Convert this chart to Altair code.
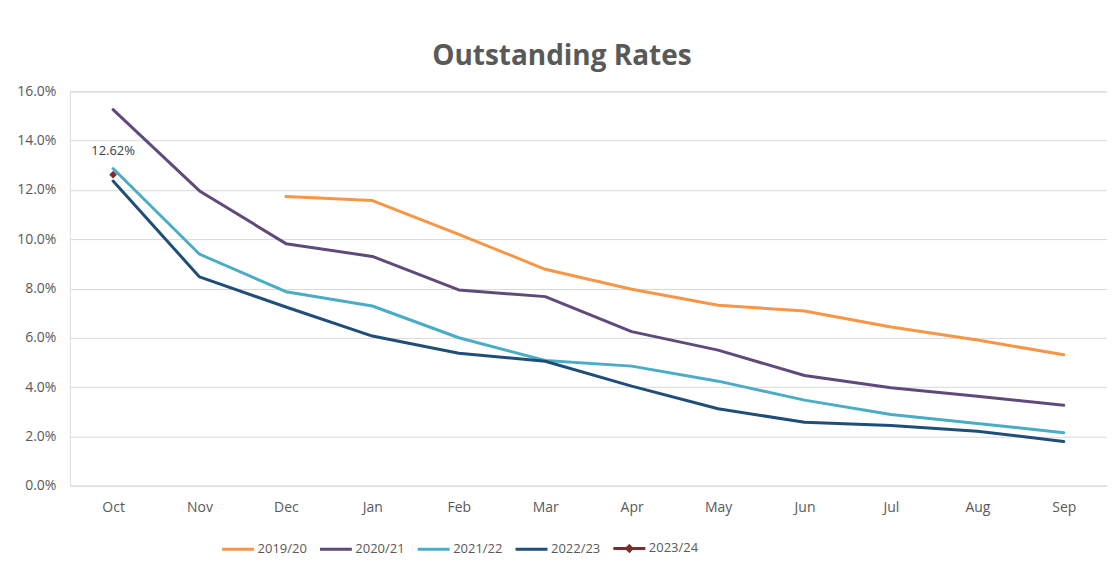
import altair as alt
import pandas as pd

months = ["Oct", "Nov", "Dec", "Jan", "Feb", "Mar", "Apr", "May", "Jun", "Jul", "Aug", "Sep"]
series_names = ["2019/20", "2020/21", "2021/22", "2022/23", "2023/24"]
s2019 = [None, None, 11.73, 11.57, 10.20, 8.78, 7.97, 7.32, 7.09, 6.44, 5.91, 5.31]
s2020 = [15.26, 11.96, 9.82, 9.30, 7.94, 7.67, 6.25, 5.50, 4.47, 3.97, 3.63, 3.26]
s2021 = [12.87, 9.39, 7.87, 7.29, 6.00, 5.08, 4.85, 4.24, 3.47, 2.89, 2.52, 2.15]
s2022 = [12.36, 8.47, 7.25, 6.07, 5.37, 5.05, 4.04, 3.12, 2.57, 2.44, 2.21, 1.79]
s2023 = [12.62, None, None, None, None, None, None, None, None, None, None, None]
y_ticks = [0, 0.02, 0.04, 0.06, 0.08, 0.10, 0.12, 0.14, 0.16]
colors = ["#F79646", "#604A7B", "#4BACC6", "#1F4E79", "#7B2C2C"]

rows = []
for name, vals in zip(series_names, [s2019, s2020, s2021, s2022, s2023]):
    for m, v in zip(months, vals):
        if v is not None:
            rows.append({"month": m, "series": name, "rate": v / 100.0})
df = pd.DataFrame(rows)

FONT = "Open Sans"
GREY = "#595959"

line_path = "M-1,0L1,0"
diamond_path = "M-1,0L1,0M0,-0.16L0.16,0L0,0.16L-0.16,0Z"

color_scale = alt.Scale(domain=series_names, range=colors)
shape_scale = alt.Scale(domain=series_names,
                        range=[line_path, line_path, line_path, line_path, diamond_path])
x_enc = alt.X("month:O", sort=months, scale=alt.Scale(domain=months),
              axis=alt.Axis(title=None, labelAngle=0, domain=False, ticks=False, grid=False,
                            labelFont=FONT, labelFontSize=14, labelColor=GREY, labelPadding=15))
y_enc = alt.Y("rate:Q", scale=alt.Scale(domain=[0, 0.16], nice=False),
              axis=alt.Axis(title=None, format=".1%", values=y_ticks, domain=False, ticks=False,
                            grid=True, gridColor="#D9D9D9", gridWidth=1,
                            labelFont=FONT, labelFontSize=14, labelColor=GREY, labelPadding=14))

legend = alt.Legend(title=None, orient="none", direction="horizontal", legendX=151, legendY=440)
color_enc = alt.Color("series:N", scale=color_scale, legend=legend)

base = alt.Chart(df)

lines = base.mark_line(strokeWidth=3, strokeCap="round", strokeJoin="round").encode(
    x=x_enc, y=y_enc, color=color_enc,
)

pt = base.transform_filter(alt.datum.series == "2023/24").mark_point(
    shape="diamond", filled=True, size=60, opacity=1).encode(
    x=x_enc, y=y_enc, color=color_enc,
)

label = base.transform_filter(alt.datum.series == "2023/24").mark_text(
    dy=-24, font=FONT, fontSize=13, color="#404040").encode(
    x=x_enc, y=y_enc,
    text=alt.Text("rate:Q", format=".2%"),
)

legend_layer = base.transform_filter("false").mark_point(filled=False, strokeWidth=3).encode(
    x=x_enc, y=y_enc, color=color_enc,
    shape=alt.Shape("series:N", scale=shape_scale, legend=legend),
)

chart = alt.layer(lines, pt, label, legend_layer).properties(
    width=1039, height=395,
    title=alt.Title("Outstanding Rates", font=FONT, fontSize=28, fontWeight="bold", color=GREY,
                    anchor="middle", frame="bounds", offset=13),
    padding={"left": 8, "top": 35, "right": 0, "bottom": 5},
).configure_view(stroke=None).configure(background="white").configure_legend(
    labelFont=FONT, labelFontSize=13, labelColor=GREY, labelOffset=2,
    symbolSize=1024, symbolStrokeWidth=3, columnPadding=6,
)

chart.save("out.html", embed_options={"renderer": "svg", "actions": False})
